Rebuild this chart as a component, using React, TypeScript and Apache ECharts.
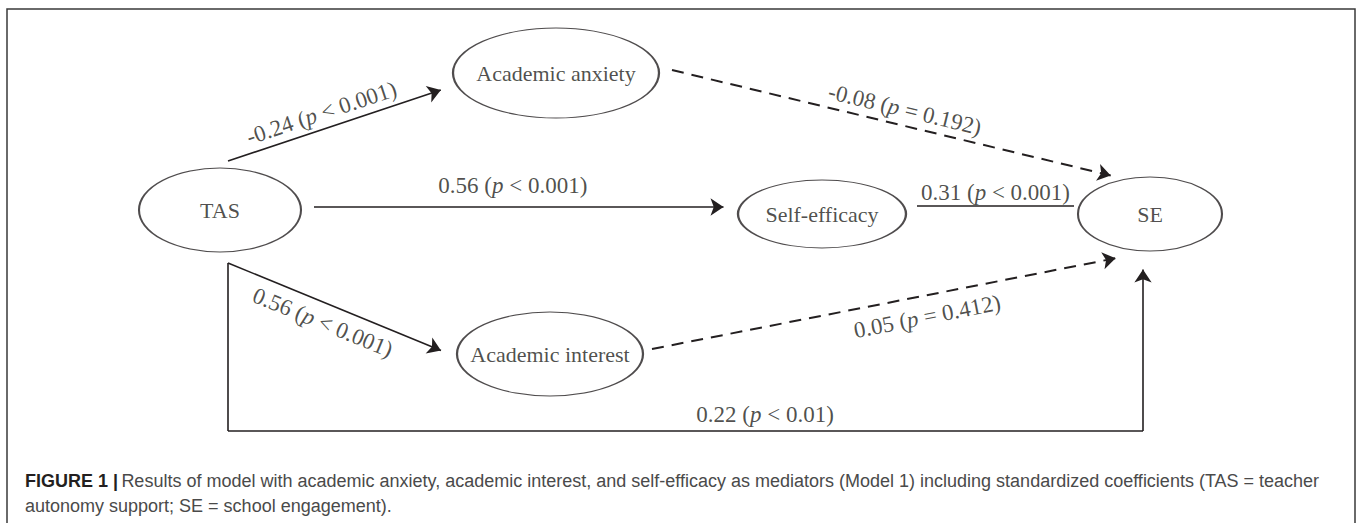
import React, { useEffect, useRef } from "react";
import * as echarts from "echarts";

// ---------- data ----------
const nodeNames = ["TAS", "Academic anxiety", "Self-efficacy", "SE", "Academic interest"];

const edgeFrom = ["TAS", "Academic anxiety", "TAS", "Self-efficacy", "TAS", "Academic interest", "TAS"];
const edgeTo = ["Academic anxiety", "SE", "Self-efficacy", "SE", "Academic interest", "SE", "SE"];
const coefficients = ["-0.24", "-0.08", "0.56", "0.31", "0.56", "0.05", "0.22"];
const pRelations = ["<", "=", "<", "<", "<", "=", "<"];
const pValues = ["0.001", "0.192", "0.001", "0.001", "0.001", "0.412", "0.01"];

const captionBold = "FIGURE 1 |";
const captionLine1 =
  "Results of model with academic anxiety, academic interest, and self-efficacy as mediators (Model 1) including standardized coefficients (TAS = teacher";
const captionLine2 = "autonomy support; SE = school engagement).";

// ---------- layout (diagram coordinates) ----------
const nodeX = [220, 556, 822, 1150, 550];
const nodeY = [210, 73, 214, 214, 354];
const nodeW = [162, 206, 168, 144, 186];
const nodeH = [84, 90, 68, 74, 84];

const edgeRoutes: number[][][] = [
  [[228, 161], [447, 88]],
  [[672, 70], [1117, 177]],
  [[314, 207], [730, 207]],
  [[917, 206], [1074, 206]],
  [[228, 263], [447, 353]],
  [[652, 349], [1122, 257]],
  [[228, 263], [228, 431], [1143, 431], [1143, 263]],
];
const edgeArrow = [true, true, true, false, true, true, true];
// label anchor: segment index, fraction along it, perpendicular offset (+ = above)
const labelSeg = [0, 0, 0, 0, 0, 0, 1];
const labelT = [0.45, 0.515, 0.478, 0.5, 0.466, 0.577, 0.587];
const labelOff = [16, 16, 22, 14, -19, -21, 17];

const INK = "#231f20";
const SERIF = "'Liberation Serif', 'Times New Roman', serif";
const SANS = "'Liberation Sans', Arial, sans-serif";
const ARROW = 13;

export default function App() {
  const ref = useRef<HTMLDivElement>(null);

  useEffect(() => {
    document.body.style.margin = "0";
    if (!ref.current) return;
    const chart = echarts.init(ref.current, null, { renderer: "svg" });

    // edges as line segments
    const lineData: any[] = [];
    edgeRoutes.forEach((route, ei) => {
      const dashed = pRelations[ei] === "=" && parseFloat(pValues[ei]) > 0.05;
      for (let s = 0; s < route.length - 1; s++) {
        const a = route[s];
        let b = route[s + 1];
        const last = s === route.length - 2;
        const hasArrow = last && edgeArrow[ei];
        if (hasArrow) {
          const dx = b[0] - a[0];
          const dy = b[1] - a[1];
          const len = Math.hypot(dx, dy);
          b = [b[0] - (dx / len) * (ARROW / 2), b[1] - (dy / len) * (ARROW / 2)];
        }
        lineData.push({
          name: edgeFrom[ei] + " → " + edgeTo[ei],
          coords: [a, b],
          symbol: ["none", hasArrow ? "arrow" : "none"],
          lineStyle: {
            type: dashed ? [12, 8] : "solid",
            width: dashed ? 2 : 1.6,
            color: INK,
          },
        });
      }
    });

    // edge labels
    const labelData = edgeRoutes.map((route, ei) => {
      const a = route[labelSeg[ei]];
      const b = route[labelSeg[ei] + 1];
      const t = labelT[ei];
      const dx = b[0] - a[0];
      const dy = b[1] - a[1];
      const len = Math.hypot(dx, dy);
      const nx = dy / len;
      const ny = -dx / len;
      const x = a[0] + dx * t + nx * labelOff[ei];
      const y = a[1] + dy * t + ny * labelOff[ei];
      const angle = (-Math.atan2(dy, dx) * 180) / Math.PI;
      return {
        value: [x, y],
        label: {
          rotate: angle,
          formatter:
            "{n|" + coefficients[ei] + " (}{i|p}{n| " + pRelations[ei] + " " + pValues[ei] + ")}",
        },
      };
    });

    const nodeData = nodeNames.map((n, i) => ({
      name: n,
      value: [nodeX[i], nodeY[i]],
      symbolSize: [nodeW[i], nodeH[i]],
    }));

    chart.setOption({
      animation: false,
      grid: { left: 0, right: 0, top: 0, bottom: 0 },
      xAxis: { type: "value", min: 0, max: 1357, show: false },
      yAxis: { type: "value", min: 0, max: 523, inverse: true, show: false },
      series: [
        {
          type: "lines",
          coordinateSystem: "cartesian2d",
          z: 2,
          symbolSize: ARROW,
          data: lineData,
          lineStyle: { color: INK, opacity: 1 },
          itemStyle: { color: INK },
        },
        {
          type: "scatter",
          z: 3,
          symbol: "path://M0 50A50 50 0 1 0 100 50A50 50 0 1 0 0 50Z",
          symbolKeepAspect: false,
          itemStyle: { color: "#ffffff", borderColor: INK, borderWidth: 1.5 },
          label: {
            show: true,
            position: "inside",
            formatter: "{b}",
            fontFamily: SERIF,
            fontSize: 22,
            color: INK,
          },
          data: nodeData,
        },
        {
          type: "scatter",
          z: 4,
          symbol: "circle",
          symbolSize: 1,
          itemStyle: { color: "rgba(0,0,0,0)" },
          label: {
            show: true,
            position: "inside",
            rich: {
              n: { fontFamily: SERIF, fontSize: 23, color: INK },
              i: { fontFamily: SERIF, fontSize: 23, color: INK, fontStyle: "italic" },
            },
          },
          data: labelData,
        },
      ],
      graphic: [
        {
          type: "rect",
          shape: { x: 7, y: 9, width: 1348, height: 600 },
          style: { fill: "none", stroke: "#3a3a3a", lineWidth: 1.5 },
          silent: true,
        },
        {
          type: "text",
          x: 25,
          y: 481,
          style: {
            text: "{b|" + captionBold + "} {r|" + captionLine1 + "}",
            verticalAlign: "middle",
            rich: {
              b: { fontFamily: SANS, fontSize: 18, fontWeight: "bold", fill: "#231f20" },
              r: { fontFamily: SANS, fontSize: 18, fill: "#4a4a4a" },
            },
          },
        },
        {
          type: "text",
          x: 25,
          y: 506,
          style: {
            text: captionLine2,
            verticalAlign: "middle",
            fontFamily: SANS,
            fontSize: 18,
            fill: "#4a4a4a",
          },
        },
      ],
    });

    return () => chart.dispose();
  }, []);

  return <div ref={ref} style={{ width: 1357, height: 523 }} />;
}
